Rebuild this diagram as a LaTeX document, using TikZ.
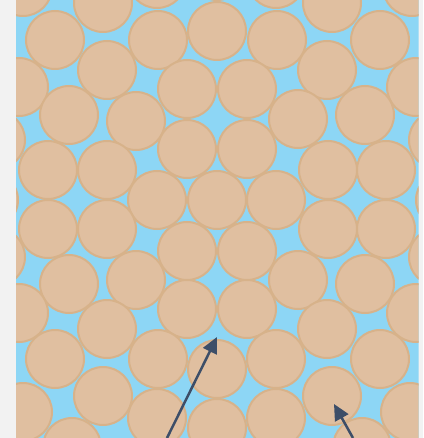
\documentclass[tikz,border=0pt]{standalone}
\usetikzlibrary{arrows.meta}
\definecolor{poreblue}{RGB}{141,214,245}
\definecolor{grainfill}{RGB}{224,191,160}
\definecolor{grainedge}{RGB}{215,178,138}
\definecolor{slate}{RGB}{61,78,104}
\definecolor{margin}{RGB}{242,242,242}

\begin{document}
\begin{tikzpicture}[x=1pt,y=-1pt,
        grain/.style={circle, draw=grainedge, fill=grainfill, line width=2pt,
            minimum size=58pt, inner sep=0pt},
        pointer/.style={draw=slate, line width=2.5pt,
            -{Triangle[length=16pt,width=15pt]}}]
    \fill[margin] (0,0) rectangle (423,438);
    \useasboundingbox (0,0) rectangle (423,438);
    \begin{scope}
        \clip (16,0) rectangle (418.7,438);
        \fill[poreblue] (16,0) rectangle (418.7,438);
        % packed grains, row by row
        \foreach \gx/\gy [count=\i] in {
            23/-13, 103/3, 157/-21, 217/-29, 276/-21, 332/3, 412/-13,
            55/40, 158/40, 217/31, 277/40, 380/40,
            107/70, 327/70,
            19/87, 187/89, 247/89, 416/87,
            69/115, 136/121, 298/119, 365/115,
            -4/140, 438/140, 187/149, 247/149,
            48/170, 107/170, 328/170, 386/170,
            -11/200, 157/200, 217/200, 276/200, 445/200,
            48/229, 107/229, 328/229, 386/229,
            187/251, 247/251, -4/257, 438/257,
            69/284, 136/280, 298/280, 365/284,
            19/313, 187/309, 247/309, 416/313,
            107/329, 327/329,
            55/359, 158/359, 217/369, 276/359, 380/359,
            103/396, 332/396,
            23/412, 410/412,
            157/418, 217/428, 276/418,
            72/447, 362/447}
            \node[grain] (g\i) at (\gx,\gy) {};
    \end{scope}
    % pointers
    \coordinate (voidtip) at (217,337);
    \coordinate (voidtail) at (167,438);
    \coordinate (graintip) at (334,404);
    \coordinate (graintail) at (353,438);
    \draw[pointer] (voidtail) -- (voidtip);
    \draw[pointer] (graintail) -- (graintip);
\end{tikzpicture}
\end{document}
